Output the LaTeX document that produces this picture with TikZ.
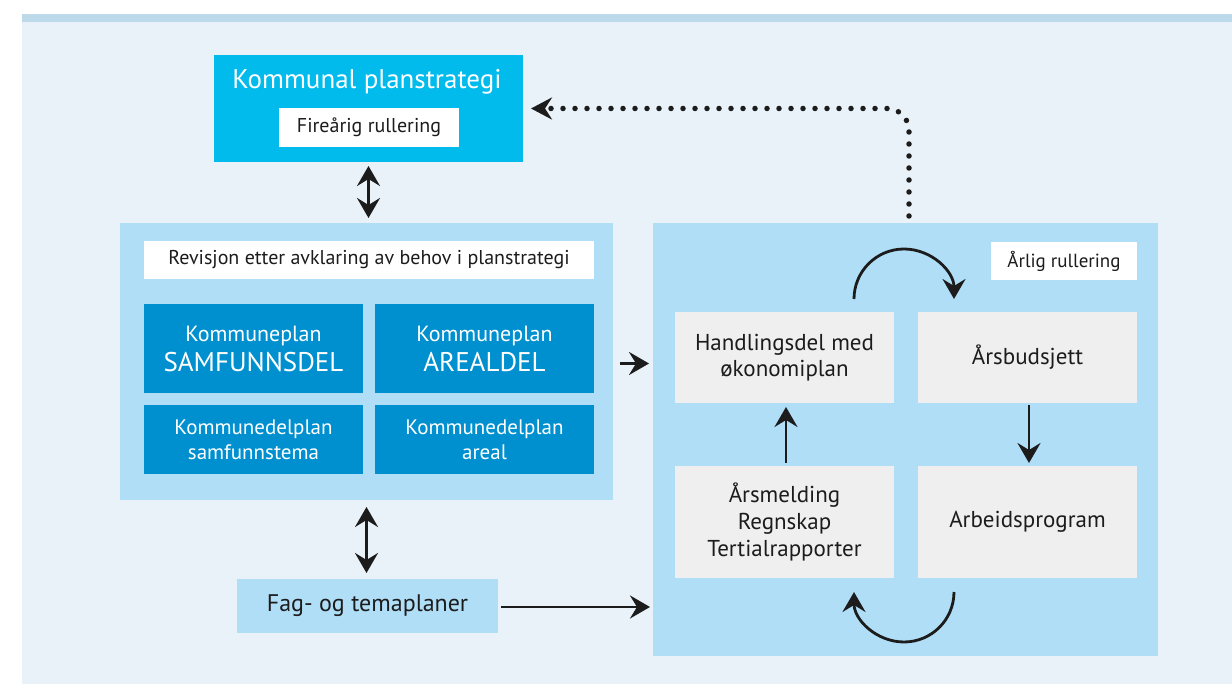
\documentclass[tikz,border=0pt]{standalone}
\usepackage{fontspec}
\setmainfont{PT Sans}
\usetikzlibrary{arrows.meta,calc}
\definecolor{barblue}{HTML}{BDDAEA}
\definecolor{bgblue}{HTML}{E9F1F9}
\definecolor{cyanb}{HTML}{00BBEB}
\definecolor{lightb}{HTML}{B0DEF7}
\definecolor{darkb}{HTML}{0090D0}
\definecolor{grayb}{HTML}{EFEFEF}
\definecolor{ink}{HTML}{1C1C1C}
\begin{document}
\begin{tikzpicture}[x=1pt,y=-1pt,
  box/.style={rectangle,inner sep=0pt,outer sep=0pt,align=center},
  bluebox/.style={box,fill=darkb,text=white,minimum width=219pt},
  graybox/.style={box,fill=grayb,text=ink,minimum width=219pt,font=\fontsize{23}{26}\selectfont},
  whitebox/.style={box,fill=white,text=ink},
  arr/.style={line width=2.8pt,ink,-{Stealth[length=20pt,width=23pt,inset=7pt]}},
  darr/.style={line width=2.8pt,ink,{Stealth[length=20pt,width=23pt,inset=7pt]}-{Stealth[length=20pt,width=23pt,inset=7pt]}},
  dotarr/.style={line width=5.5pt,ink,line cap=round,dash pattern=on 0pt off 12pt,rounded corners=22pt,-{Stealth[length=21pt,width=22pt,inset=7pt]}}
]
\useasboundingbox (0,0) rectangle (1232,684);
\fill[white] (0,0) rectangle (1232,684);
\fill[bgblue] (22,22) rectangle (1232,684);
\fill[barblue] (22,14) rectangle (1232,22);

% Kommunal planstrategi
\node[box,fill=cyanb,minimum width=309pt,minimum height=107pt] (kps) at (368.5,108.5) {};
\node[text=white,font=\fontsize{27}{30}\selectfont,inner sep=0pt] (kpst) at (367,82) {Kommunal planstrategi};
\node[whitebox,minimum width=180pt,minimum height=39pt,font=\fontsize{20}{24}\selectfont] (fire) at (369,127.5) {Fireårig rullering};

% left container
\node[box,fill=lightb,minimum width=493pt,minimum height=277pt] (left) at (366.5,361.5) {};
\node[whitebox,minimum width=450pt,minimum height=38pt,font=\fontsize{20}{24}\selectfont] (rev) at (369,260) {Revisjon etter avklaring av behov i planstrategi};
\node[bluebox,minimum height=89pt,font=\fontsize{22}{30}\selectfont] (samf) at (253.5,348.5) {Kommuneplan\\{\fontsize{27}{30}\selectfont SAMFUNNSDEL}};
\node[bluebox,minimum height=89pt,font=\fontsize{22}{30}\selectfont] (areal) at (484.5,348.5) {Kommuneplan\\{\fontsize{27}{30}\selectfont AREALDEL}};
\node[bluebox,minimum height=69pt,font=\fontsize{21}{25}\selectfont] (samft) at (253.5,439.5) {Kommunedelplan\\samfunnstema};
\node[bluebox,minimum height=69pt,font=\fontsize{21}{25}\selectfont] (arealt) at (484.5,439.5) {Kommunedelplan\\areal};

% Fag- og temaplaner
\node[box,fill=lightb,text=ink,minimum width=261pt,minimum height=54pt,font=\fontsize{24}{28}\selectfont] (fag) at (367.5,606) {Fag- og temaplaner};

% right container
\node[box,fill=lightb,minimum width=505pt,minimum height=433pt] (right) at (905.5,439.5) {};
\node[whitebox,minimum width=146pt,minimum height=38pt,font=\fontsize{19}{23}\selectfont] (arlig) at (1064,261) {Årlig rullering};
\node[graybox,minimum height=91pt] (hand) at (784.5,357.5) {Handlingsdel med\\økonomiplan};
\node[graybox,minimum height=91pt] (budsj) at (1027.5,357.5) {Årsbudsjett};
\node[graybox,minimum height=112pt,font=\fontsize{23}{27}\selectfont] (arsm) at (784.5,522) {Årsmelding\\Regnskap\\Tertialrapporter};
\node[graybox,minimum height=112pt] (arb) at (1027.5,522) {Arbeidsprogram};

% connectors
\draw[darr] ($(kps.south)+(0,4)$) -- ($(kps.south |- left.north)+(0,-5)$);
\draw[darr] ($(left.south)+(0,7)$) -- ($(left.south |- fag.north)+(0,-6)$);
\draw[arr] ($(left.east)+(7,2)$) -- ($(left.east -| right.west)+(-4,2)$);
\draw[arr] ($(fag.east)+(3,1)$) -- ($(fag.east -| right.west)+(-3,1)$);
\draw[arr] ($(arsm.north)+(1.5,-3)$) -- ($(hand.south)+(1.5,4)$);
\draw[arr] ($(budsj.south)+(1.5,2)$) -- ($(arb.north)+(1.5,-3)$);
\coordinate (loopT) at ($(hand.north)+(69.5,-13)$);
\coordinate (loopB) at ($(arb.south)+(-73.5,14)$);
\draw[arr] (loopT) arc[start angle=180,end angle=360,radius=50];
\draw[arr] (loopB) arc[start angle=0,end angle=180,radius=50];
\coordinate (dotS) at ($(right.north)+(3.5,-7)$);
\draw[dotarr] (dotS) |- ($(kps.east)+(8,0)$);
\end{tikzpicture}
\end{document}
